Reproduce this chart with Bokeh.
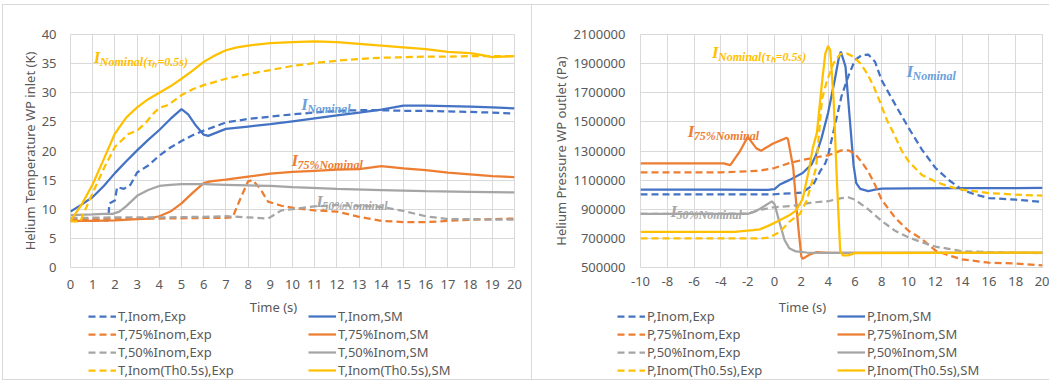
from bokeh.plotting import figure
from bokeh.models import (Range1d, FixedTicker, Legend, LegendItem, Label,
                          BasicTickFormatter, PrintfTickFormatter)
from bokeh.layouts import row, column
from bokeh.embed import file_html
from bokeh.resources import INLINE

# ---------------- Left chart: Helium temperature WP inlet (K) ----------------
t_inom_exp_x = [0, 1.7, 1.75, 2.0, 2.1, 2.4, 2.7, 3.0, 3.5, 4, 4.5, 5, 5.5, 6, 7, 8, 9, 10, 11, 12, 13, 14, 15, 16, 17, 18, 19, 20]
t_inom_exp_y = [8.0, 8.1, 11.0, 11.5, 13.8, 13.5, 14.2, 16.3, 17.5, 19.2, 20.6, 21.7, 22.7, 23.5, 24.9, 25.5, 25.9, 26.3, 26.6, 26.9, 27.0, 27.0, 26.9, 26.9, 26.8, 26.7, 26.6, 26.4]
t_inom_sm_x = [0, 0.5, 1, 1.5, 2, 2.5, 3, 3.5, 4, 4.5, 5, 5.3, 5.6, 6, 6.2, 6.6, 7, 8, 9, 10, 11, 12, 13, 14, 15, 16, 17, 18, 19, 20]
t_inom_sm_y = [9.6, 10.8, 12.1, 14.0, 16.2, 18.2, 20.1, 21.9, 23.6, 25.5, 27.2, 26.3, 24.6, 22.8, 22.6, 23.2, 23.8, 24.2, 24.6, 25.1, 25.6, 26.1, 26.6, 27.1, 27.8, 27.8, 27.7, 27.6, 27.5, 27.3]

t_75_exp_x = [0, 2, 4, 6, 7, 7.3, 7.65, 8.0, 8.2, 8.55, 8.9, 9.5, 10.1, 11, 12, 13, 14, 15, 16, 17, 18, 19, 20]
t_75_exp_y = [8.3, 8.4, 8.4, 8.5, 8.5, 8.6, 11.8, 14.8, 15.0, 13.5, 11.3, 10.6, 10.2, 9.8, 9.6, 8.7, 8.0, 7.8, 7.8, 8.0, 8.2, 8.3, 8.4]
t_75_sm_x = [0, 1, 2, 3, 3.5, 4, 4.5, 5, 5.5, 6, 6.3, 7, 8, 9, 10, 11, 12, 13, 14, 15, 16, 17, 18, 19, 20]
t_75_sm_y = [8.0, 8.0, 8.1, 8.3, 8.4, 8.8, 9.6, 11.0, 12.8, 14.5, 14.8, 15.1, 15.6, 16.1, 16.4, 16.6, 16.8, 16.9, 17.4, 17.0, 16.7, 16.3, 16.0, 15.7, 15.5]

t_50_exp_x = [0, 2, 4, 6, 7, 8, 8.9, 9.5, 10, 11, 12, 13, 14, 15, 16, 17, 18, 19, 20]
t_50_exp_y = [8.5, 8.6, 8.6, 8.7, 8.8, 8.6, 8.4, 9.8, 10.0, 10.5, 10.7, 10.6, 10.4, 9.7, 8.8, 8.3, 8.3, 8.2, 8.2]
t_50_sm_x = [0, 1, 1.5, 1.9, 2.2, 2.5, 3, 3.5, 4, 4.5, 5, 6, 7, 8, 9, 10, 12, 14, 16, 18, 20]
t_50_sm_y = [9.0, 9.1, 9.2, 9.2, 9.6, 10.5, 12.3, 13.3, 14.0, 14.2, 14.3, 14.3, 14.2, 14.1, 14.0, 13.8, 13.5, 13.3, 13.1, 13.0, 12.9]

t_th_exp_x = [0, 0.45, 0.55, 0.7, 1, 1.5, 2, 2.3, 2.6, 3, 3.4, 3.7, 4, 4.4, 5, 5.5, 6, 7, 8, 9, 10, 11, 12, 13, 14, 15, 16, 17, 18, 19, 20]
t_th_exp_y = [7.9, 7.9, 9.0, 10.2, 12.8, 17.0, 20.7, 21.8, 22.9, 23.5, 24.9, 26.3, 27.4, 27.9, 29.6, 30.6, 31.3, 32.4, 33.2, 33.9, 34.6, 35.1, 35.5, 35.8, 36.0, 36.1, 36.2, 36.2, 36.3, 36.3, 36.3]
t_th_sm_x = [0, 0.5, 1, 1.5, 2, 2.5, 3, 3.5, 4, 4.5, 5, 5.5, 6, 6.5, 7, 7.5, 8, 9, 10, 11, 12, 13, 14, 15, 16, 17, 18, 18.5, 19, 19.5, 20]
t_th_sm_y = [8.0, 10.8, 14.3, 18.6, 23.0, 25.7, 27.5, 28.9, 30.0, 31.1, 32.4, 33.8, 35.3, 36.4, 37.3, 37.8, 38.1, 38.5, 38.7, 38.8, 38.7, 38.4, 38.1, 37.8, 37.5, 37.0, 36.8, 36.5, 36.1, 36.2, 36.3]

t_xticks = list(range(0, 21))
t_yticks = [0, 5, 10, 15, 20, 25, 30, 35, 40]

# ---------------- Right chart: Helium pressure WP outlet (Pa) ----------------
p_inom_exp_x = [-10, -4, 0, 2.1, 2.9, 3.4, 3.8, 4, 4.5, 5, 5.5, 6, 6.5, 7, 7.5, 8, 9, 10, 11, 12, 13, 14, 15, 16, 18, 20]
p_inom_exp_y = [1003000, 1003000, 1003000, 1014000, 1070000, 1160000, 1217000, 1270000, 1473000, 1676000, 1811000, 1924000, 1958000, 1962000, 1913000, 1785000, 1620000, 1460000, 1310000, 1185000, 1101000, 1034000, 1000000, 977000, 966000, 950000]
p_inom_sm_x = [-10, -4, -0.5, 0, 0.4, 1.1, 2.1, 2.75, 3.1, 3.5, 4, 4.5, 4.8, 4.95, 5.3, 5.6, 5.9, 6.1, 6.4, 7, 7.5, 8, 10, 14, 20]
p_inom_sm_y = [1035000, 1035000, 1033000, 1038000, 1070000, 1100000, 1149000, 1206000, 1273000, 1385000, 1563000, 1789000, 1940000, 1982000, 1880000, 1540000, 1203000, 1079000, 1040000, 1025000, 1035000, 1042000, 1043000, 1045000, 1046000]

p_75_exp_x = [-10, -4, -1.1, 0, 1.1, 2.1, 3.4, 4, 5, 5.5, 6, 6.5, 7, 7.5, 8, 9, 10, 11, 12, 13, 14, 16, 18, 20]
p_75_exp_y = [1153000, 1153000, 1165000, 1183000, 1217000, 1239000, 1262000, 1270000, 1304000, 1305000, 1282000, 1225000, 1158000, 1068000, 965000, 842000, 752000, 696000, 617000, 583000, 556000, 533000, 527000, 515000]
p_75_sm_x = [-10, -3.8, -3.3, -2.6, -2.0, -1.35, -1.0, -0.1, 0.9, 1.0, 1.4, 1.75, 2.0, 2.1, 2.6, 3.1, 4, 20]
p_75_sm_y = [1215000, 1215000, 1203000, 1295000, 1397000, 1318000, 1302000, 1352000, 1390000, 1385000, 1183000, 800000, 577000, 559000, 588000, 605000, 600000, 600000]

p_50_exp_x = [-10, -2, -1.1, -0.1, 1.4, 2.9, 4, 5, 5.5, 6, 7, 8, 9, 10, 11, 12, 13, 14, 16, 18, 20]
p_50_exp_y = [868000, 870000, 895000, 913000, 924000, 947000, 955000, 977000, 982000, 966000, 899000, 820000, 752000, 707000, 673000, 644000, 628000, 612000, 605000, 601000, 599000]
p_50_sm_x = [-10, -2, -1.6, -1.1, -0.6, -0.2, 0, 0.4, 0.75, 1.1, 1.6, 2.4, 4, 20]
p_50_sm_y = [868000, 868000, 880000, 902000, 931000, 954000, 936000, 801000, 689000, 633000, 610000, 603000, 600000, 600000]

p_th_exp_x = [-10, -1, -0.35, 0.4, 1.1, 1.9, 2.4, 2.75, 3.1, 3.54, 3.9, 4.4, 4.9, 5.4, 5.9, 6.4, 6.9, 7.4, 7.9, 8.4, 8.9, 9.5, 10, 11, 12, 13, 14, 16, 18, 20]
p_th_exp_y = [700000, 700000, 707000, 745000, 813000, 869000, 959000, 1071000, 1183000, 1654000, 1778000, 1902000, 1965000, 1969000, 1947000, 1902000, 1834000, 1744000, 1630000, 1510000, 1420000, 1300000, 1230000, 1135000, 1090000, 1056000, 1034000, 1011000, 1000000, 993000]
p_th_sm_x = [-10, -3, -1.6, -1.1, -0.35, 0.4, 1.1, 1.6, 2.1, 2.6, 2.85, 3.17, 3.54, 3.79, 4.0, 4.16, 4.41, 4.66, 4.9, 5.1, 5.5, 6.0, 20]
p_th_sm_y = [745000, 745000, 757000, 762000, 791000, 824000, 858000, 891000, 970000, 1183000, 1318000, 1428000, 1766000, 1969000, 2021000, 1992000, 1654000, 1090000, 617000, 583000, 583000, 599000, 602000]

p_xticks = list(range(-10, 21, 2))
p_yticks = list(range(500000, 2100001, 200000))

t_labels = ["T,Inom,Exp", "T,Inom,SM", "T,75%Inom,Exp", "T,75%Inom,SM",
            "T,50%Inom,Exp", "T,50%Inom,SM", "T,Inom(Th0.5s),Exp", "T,Inom(Th0.5s),SM"]
p_labels = ["P,Inom,Exp", "P,Inom,SM", "P,75%Inom,Exp", "P,75%Inom,SM",
            "P,50%Inom,Exp", "P,50%Inom,SM", "P,Inom(Th0.5s),Exp", "P,Inom(Th0.5s),SM"]

# annotation texts: (subscript, x, y)
t_notes = [("Nominal(τₕ=0.5s)", 1.05, 36.0), ("Nominal", 10.39, 27.9),
           ("75%Nominal", 9.95, 18.3), ("50%Nominal", 11.07, 11.3)]
p_notes = [("Nominal(τₕ=0.5s)", -4.66, 1974000), ("Nominal", 9.85, 1845000),
           ("75%Nominal", -6.48, 1433000), ("50%Nominal", -7.76, 887000)]

BLUE, ORANGE, GRAY, GOLD = "#4472C4", "#ED7D31", "#A5A5A5", "#FFC000"
SERIES_COLORS = [BLUE, BLUE, ORANGE, ORANGE, GRAY, GRAY, GOLD, GOLD]
NOTE_COLORS = ["#FFC000", "#6A9FDB", "#ED7D31", "#A5A5A5"]
GRID, TXT = "#D9D9D9", "#595959"
FONT = "Noto Sans"
DASH = "7 4"
LW = 2.25
MAIN_H, LEG_H = 298, 83
W1, W2 = 531, 518


def vline(x, y, h):
    return f"linear-gradient({GRID},{GRID}) {x}px {y}px / 1px {h}px no-repeat"


def hline(x, y, w):
    return f"linear-gradient({GRID},{GRID}) {x}px {y}px / {w}px 1px no-repeat"


def make_fig(width, borders, xr, yr, xticks, yticks, ylabel, xstandoff, ystandoff, bg):
    left, right, top, bottom = borders
    p = figure(width=width, height=MAIN_H, output_backend="svg", toolbar_location=None,
               x_range=Range1d(*xr), y_range=Range1d(*yr),
               min_border_left=left, min_border_right=right,
               min_border_top=top, min_border_bottom=bottom,
               background_fill_color="white", border_fill_alpha=0,
               outline_line_color=GRID, styles={"background": bg})
    xt = FixedTicker(ticks=xticks)
    yt = FixedTicker(ticks=yticks)
    p.xaxis.ticker = xt
    p.yaxis.ticker = yt
    p.xgrid.ticker = xt
    p.ygrid.ticker = yt
    p.grid.grid_line_color = GRID
    p.grid.grid_line_width = 1
    for ax in (p.xaxis, p.yaxis):
        ax.axis_line_color = None
        ax.major_tick_line_color = None
        ax.minor_tick_line_color = None
        ax.major_tick_out = 0
        ax.major_tick_in = 0
        ax.minor_tick_out = 0
        ax.minor_tick_in = 0
        ax.major_label_text_font = FONT
        ax.major_label_text_font_size = "13px"
        ax.major_label_text_color = TXT
    p.xaxis.major_label_standoff = xstandoff
    p.yaxis.major_label_standoff = ystandoff
    p.yaxis.axis_label = ylabel
    p.yaxis.axis_label_text_font = FONT
    p.yaxis.axis_label_text_font_size = "13px"
    p.yaxis.axis_label_text_font_style = "normal"
    p.yaxis.axis_label_text_color = TXT
    p.yaxis.axis_label_standoff = 0
    return p


def add_series(p, xs, ys, **kw):
    rs = []
    for i, (x, y) in enumerate(zip(xs, ys)):
        rs.append(p.line(x, y, line_color=SERIES_COLORS[i], line_width=LW,
                         line_dash=DASH if i % 2 == 0 else "solid", **kw))
    return rs


def add_notes(p, notes):
    for (sub, x, y), c in zip(notes, NOTE_COLORS):
        p.add_layout(Label(x=x, y=y, text="I", text_color=c, text_font="Liberation Serif",
                           text_font_style="bold italic", text_font_size="17px",
                           text_baseline="alphabetic"))
        p.add_layout(Label(x=x, y=y, x_offset=6, y_offset=-4, text=sub, text_color=c,
                           text_font="Liberation Serif", text_font_style="bold italic",
                           text_font_size="12px", text_baseline="alphabetic"))


def add_legends(lf, renderers, labels, col_x):
    exp_items = [LegendItem(label=labels[i], renderers=[renderers[i]]) for i in range(0, 8, 2)]
    sm_items = [LegendItem(label=labels[i], renderers=[renderers[i]]) for i in range(1, 8, 2)]
    for items, cx in zip((exp_items, sm_items), col_x):
        lf.add_layout(Legend(items=items, location=(cx, 2), orientation="vertical",
                             padding=0, margin=0, spacing=0,
                             glyph_width=28, glyph_height=18, label_height=18, label_standoff=2,
                             label_text_font=FONT, label_text_font_size="13px",
                             label_text_color=TXT, border_line_color=None,
                             background_fill_alpha=0, inactive_fill_alpha=0))


T_XS = [t_inom_exp_x, t_inom_sm_x, t_75_exp_x, t_75_sm_x, t_50_exp_x, t_50_sm_x, t_th_exp_x, t_th_sm_x]
T_YS = [t_inom_exp_y, t_inom_sm_y, t_75_exp_y, t_75_sm_y, t_50_exp_y, t_50_sm_y, t_th_exp_y, t_th_sm_y]
P_XS = [p_inom_exp_x, p_inom_sm_x, p_75_exp_x, p_75_sm_x, p_50_exp_x, p_50_sm_x, p_th_exp_x, p_th_sm_x]
P_YS = [p_inom_exp_y, p_inom_sm_y, p_75_exp_y, p_75_sm_y, p_50_exp_y, p_50_sm_y, p_th_exp_y, p_th_sm_y]

# Left chart
bg1 = ", ".join([vline(2, 4, MAIN_H - 4), hline(2, 4, W1 - 2)])
p1 = make_fig(W1, (70, 17, 27, 31), (0, 20), (0, 40), t_xticks, t_yticks,
              "Helium Temperature WP inlet (K)", 12, 14, bg1)
add_series(p1, T_XS, T_YS)
add_notes(p1, t_notes)

# Right chart
bg2 = ", ".join([vline(0, 4, MAIN_H - 4), hline(0, 4, W2)])
p2 = make_fig(W2, (109, 7, 34, 27), (-10, 20), (500000, 2100000), p_xticks, p_yticks,
              "Helium Pressure WP outlet (Pa)", 9, 15, bg2)
p2.yaxis.formatter = BasicTickFormatter(use_scientific=False)
p2.xaxis.formatter = PrintfTickFormatter(format="%d")
add_series(p2, P_XS, P_YS)
add_notes(p2, p_notes)

# Legend strip under both charts (x data units = page pixels)
bg3 = ", ".join([vline(2, 0, LEG_H - 2), vline(W1, 0, LEG_H - 2), hline(2, LEG_H - 2, W1 + W2 - 2)])
lf = figure(width=W1 + W2, height=LEG_H, output_backend="svg", toolbar_location=None,
            x_range=Range1d(70, W1 + W2 - 7), y_range=Range1d(0, LEG_H),
            min_border_left=70, min_border_right=7, min_border_top=0, min_border_bottom=0,
            x_axis_location=None, y_axis_location=None, outline_line_color=None,
            background_fill_alpha=0, border_fill_alpha=0, styles={"background": bg3})
lf.grid.visible = False
lf.extra_y_ranges = {"off": Range1d(-2e9, -1e9)}
t_leg = add_series(lf, T_XS, T_YS, y_range_name="off")
p_leg = add_series(lf, P_XS, P_YS, y_range_name="off")
add_legends(lf, t_leg, t_labels, (88 - 70, 308 - 70))
add_legends(lf, p_leg, p_labels, (617 - 70, 837 - 70))
for tx in (273, 802):
    lf.add_layout(Label(x=tx, y=LEG_H - 8, text="Time (s)", text_align="center",
                        text_baseline="middle", text_font=FONT, text_font_size="13px",
                        text_color=TXT))

layout = column(row(p1, p2), lf)
open("out.html", "w").write(file_html(layout, INLINE))
